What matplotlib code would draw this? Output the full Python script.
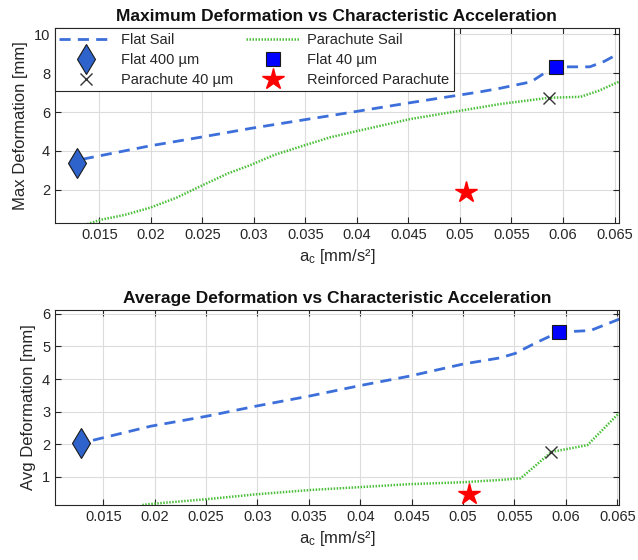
import numpy as np
import matplotlib
matplotlib.use("Agg")
import matplotlib.pyplot as plt
from matplotlib.lines import Line2D

plt.rcParams['font.family'] = ['Liberation Sans', 'DejaVu Sans']
plt.rcParams['mathtext.default'] = 'regular'

# --- max deformation (top panel) ---
flat_ac_max = [0.0134, 0.0199, 0.0251, 0.0297, 0.0357, 0.0374, 0.0452, 0.0520,
               0.0539, 0.0569, 0.0582, 0.0593, 0.0626, 0.0640, 0.0654]
flat_def_max = [3.58, 4.26, 4.73, 5.16, 5.67, 5.81, 6.48, 7.04,
                7.22, 7.55, 8.00, 8.32, 8.32, 8.60, 9.00]

para_ac_max = [0.0130, 0.0151, 0.0175, 0.0199, 0.0225, 0.0251, 0.0275, 0.0297,
               0.0320, 0.0345, 0.0374, 0.0400, 0.0452, 0.0520, 0.0539, 0.0586,
               0.0617, 0.0635, 0.0654]
para_def_max = [0.10, 0.46, 0.72, 1.08, 1.60, 2.26, 2.85, 3.28,
                3.80, 4.22, 4.70, 5.02, 5.64, 6.24, 6.41, 6.73,
                6.78, 7.10, 7.55]

# --- average deformation (bottom panel) ---
flat_ac_avg = [0.0140, 0.0196, 0.0251, 0.0299, 0.0351, 0.0400, 0.0448, 0.0500,
               0.0536, 0.0551, 0.0570, 0.0593, 0.0624, 0.0652]
flat_def_avg = [2.12, 2.55, 2.86, 3.17, 3.48, 3.80, 4.09, 4.46,
                4.65, 4.79, 5.10, 5.44, 5.49, 5.84]

para_ac_avg = [0.0188, 0.0195, 0.0251, 0.0299, 0.0351, 0.0400, 0.0448, 0.0500,
               0.0536, 0.0556, 0.0586, 0.0621, 0.0652]
para_def_avg = [0.13, 0.16, 0.31, 0.46, 0.59, 0.68, 0.77, 0.83,
                0.90, 0.95, 1.76, 1.97, 2.96]

# single design points: (ac, max, avg)
flat400 = (0.0128, 3.40, 2.02)
flat40 = (0.0593, 8.32, 5.44)
para40 = (0.0586, 6.73, 1.76)
reinforced = (0.0506, 1.88, 0.46)

xticks = [0.015, 0.02, 0.025, 0.03, 0.035, 0.04, 0.045, 0.05, 0.055, 0.06, 0.065]
xtick_labels = ['0.015', '0.02', '0.025', '0.03', '0.035', '0.04', '0.045',
                '0.05', '0.055', '0.06', '0.065']

c_flat = '#3c6fd9'
c_para = '#4bbf3a'
axcol = '#262626'

fig = plt.figure(figsize=(6.38, 5.6), dpi=100)
ax1 = fig.add_axes([0.0862, 0.6018, 0.8835, 0.3477])
ax2 = fig.add_axes([0.0862, 0.0982, 0.8845, 0.3482])


def style(ax):
    ax.set_xticks(xticks)
    ax.set_xticklabels(xtick_labels)
    ax.grid(True, color='#dcdcdc', linewidth=0.8)
    ax.set_axisbelow(True)
    ax.tick_params(direction='in', top=True, right=True, length=4,
                   labelsize=10.5, colors=axcol, width=0.8)
    for s in ax.spines.values():
        s.set_color(axcol)
        s.set_linewidth(0.8)
    ax.set_xlabel(r'$a_c$ [mm/s²]', fontsize=12, color=axcol, labelpad=4)


def draw(ax, fx, fy, px, py, i):
    ax.plot(fx, fy, '--', color=c_flat, lw=2, dashes=(4, 2.6))
    ax.plot(px, py, ':', color=c_para, lw=1.8, dashes=(0.6, 0.6))
    ax.plot(flat400[0], flat400[i], 'd', ms=15, mfc='#2f63cc', mec='#1a1a1a', mew=0.8)
    ax.plot(flat40[0], flat40[i], 's', ms=9.5, mfc='#0000ff', mec='#1a1a1a', mew=0.8)
    ax.plot(para40[0], para40[i], 'x', ms=8, color='#333333', mew=1)
    ax.plot(reinforced[0], reinforced[i], '*', ms=16, color='#ff0000', mec='#ff0000')


draw(ax1, flat_ac_max, flat_def_max, para_ac_max, para_def_max, 1)
style(ax1)
ax1.set_xlim(0.0107, 0.0654)
ax1.set_ylim(0.3, 10.3)
ax1.set_yticks([2, 4, 6, 8, 10])
ax1.set_ylabel('Max Deformation [mm]', fontsize=12, color=axcol, labelpad=4)
ax1.set_title('Maximum Deformation vs Characteristic Acceleration',
              fontsize=12.5, fontweight='bold', color='#111111', pad=5)

draw(ax2, flat_ac_avg, flat_def_avg, para_ac_avg, para_def_avg, 2)
style(ax2)
ax2.set_xlim(0.0103, 0.0652)
ax2.set_ylim(0.13, 6.12)
ax2.set_yticks([1, 2, 3, 4, 5, 6])
ax2.set_ylabel('Avg Deformation [mm]', fontsize=12, color=axcol, labelpad=4)
ax2.set_title('Average Deformation vs Characteristic Acceleration',
              fontsize=12.5, fontweight='bold', color='#111111', pad=5)

# legend, filled column-wise
handles = [
    Line2D([], [], ls='--', color=c_flat, lw=2, dashes=(4, 2.6)),
    Line2D([], [], ls='none', marker='d', ms=15, mfc='#2f63cc', mec='#1a1a1a', mew=0.8),
    Line2D([], [], ls='none', marker='x', ms=8, color='#333333', mew=1),
    Line2D([], [], ls=':', color=c_para, lw=1.8, dashes=(0.6, 0.6)),
    Line2D([], [], ls='none', marker='s', ms=9.5, mfc='#0000ff', mec='#1a1a1a', mew=0.8),
    Line2D([], [], ls='none', marker='*', ms=16, color='#ff0000'),
]
labels = ['Flat Sail', 'Flat 400 µm', 'Parachute 40 µm',
          'Parachute Sail', 'Flat 40 µm', 'Reinforced Parachute']
leg = ax1.legend(handles, labels, ncol=2, loc='upper left', borderaxespad=0,
                 fontsize=10.5, frameon=True, fancybox=False, edgecolor=axcol,
                 framealpha=1, handlelength=3.7, handletextpad=0.5,
                 columnspacing=0.9, labelspacing=0.42, borderpad=0.3)
leg.get_frame().set_linewidth(0.8)
for t in leg.get_texts():
    t.set_color(axcol)

fig.savefig('out.png', dpi=100)
